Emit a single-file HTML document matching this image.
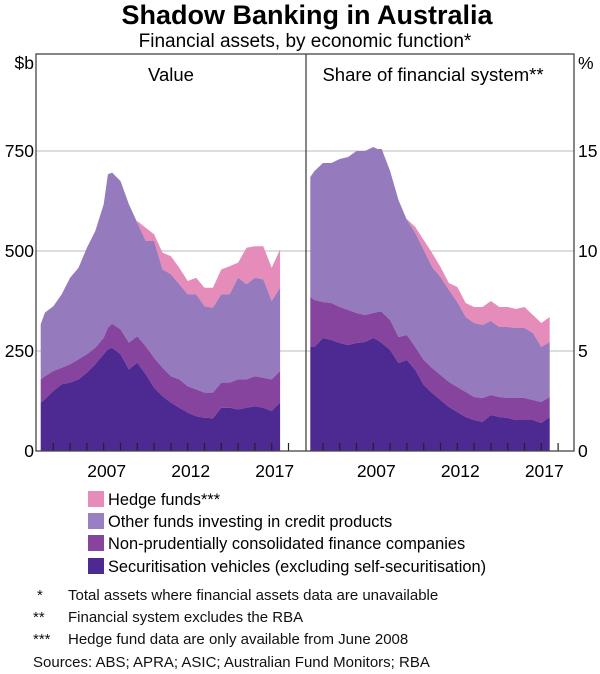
<!DOCTYPE html>
<html><head><meta charset="utf-8"><style>
body{margin:0;background:#fff;}
svg{display:block;font-family:"Liberation Sans",Arial,sans-serif;}
</style></head><body>
<svg id="chart" width="600" height="674" viewBox="0 0 600 674" xmlns="http://www.w3.org/2000/svg">
<text x="307" y="24" text-anchor="middle" font-size="27" font-weight="bold">Shadow Banking in Australia</text>
<text x="305" y="47" text-anchor="middle" font-size="19">Financial assets, by economic function*</text>
<text x="34" y="69" text-anchor="end" font-size="17.5">$b</text>
<text x="578" y="69" font-size="17.5">%</text>
<g id="plots"></g>
<rect x="36" y="54" width="538" height="397" fill="none" stroke="#444" stroke-width="1.3"/>
<line x1="306" y1="54" x2="306" y2="451" stroke="#444" stroke-width="1.3"/>
<text x="171" y="81" text-anchor="middle" font-size="18.5">Value</text>
<text x="433" y="81" text-anchor="middle" font-size="18.5">Share of financial system**</text>
<g font-size="16.4">
<rect x="88" y="491" width="16" height="16" fill="#e68cbb"/>
<text x="108" y="505">Hedge funds***</text>
<rect x="88" y="513" width="16" height="16" fill="#9a80c0"/>
<text x="108" y="527">Other funds investing in credit products</text>
<rect x="88" y="535" width="16" height="16" fill="#87449f"/>
<text x="108" y="549">Non-prudentially consolidated finance companies</text>
<rect x="88" y="558" width="16" height="16" fill="#4c2a92"/>
<text x="108" y="572">Securitisation vehicles (excluding self-securitisation)</text>
</g>
<g font-size="15" fill="#111">
<text x="37" y="600">*</text>
<text x="68" y="600">Total assets where financial assets data are unavailable</text>
<text x="33" y="622">**</text>
<text x="68" y="622">Financial system excludes the RBA</text>
<text x="33" y="644">***</text>
<text x="68" y="644">Hedge fund data are only available from June 2008</text>
<text x="33" y="667">Sources: ABS; APRA; ASIC; Australian Fund Monitors; RBA</text>
</g>
</svg>
<script>
const times = [2003.25,2003.5,2004,2004.5,2005,2005.5,2006,2006.5,2007,2007.25,2007.5,2008,2008.5,2009,2009.5,2010,2010.5,2011,2011.5,2012,2012.5,2013,2013.5,2014,2014.5,2015,2015.5,2016,2016.5,2017,2017.5];
// Value panel ($b) — cumulative stack tops
const valSec = [121,129,150,167,171,179,196,217,242,254,258,242,204,221,192,158,137,121,108,96,87,83,82,108,108,104,108,112,108,100,121];
const valNpfTop = [179,187,200,208,217,229,242,258,283,308,318,304,271,287,262,233,208,187,179,162,154,146,146,171,171,179,179,187,183,179,200];
const valOtherTop = [317,346,362,392,433,458,508,550,617,692,696,675,617,571,525,525,454,442,417,392,392,362,358,392,392,433,417,433,429,375,408];
const valTotal = [317,346,362,392,433,458,508,550,617,692,696,675,617,575,558,542,496,487,458,425,433,408,408,454,462,471,508,512,512,458,504];
// Share panel (%)
const shrSec = [5.2,5.2,5.65,5.55,5.4,5.3,5.4,5.45,5.65,5.55,5.4,5.05,4.4,4.55,4.05,3.3,2.9,2.55,2.2,1.95,1.7,1.55,1.45,1.8,1.7,1.65,1.55,1.55,1.55,1.4,1.7];
const shrNpfTop = [7.7,7.55,7.45,7.4,7.2,7.05,6.9,6.8,6.9,6.95,6.95,6.55,5.7,5.8,5.2,4.55,4.15,3.8,3.45,3.2,2.95,2.7,2.65,2.8,2.7,2.65,2.65,2.65,2.55,2.45,2.7];
const shrOtherTop = [13.7,14.0,14.4,14.4,14.6,14.7,15.0,15.0,15.2,15.1,15.1,14.0,12.55,11.55,10.9,10.05,9.2,8.7,8.05,7.45,6.7,6.4,6.3,6.5,6.2,6.2,6.15,6.15,5.9,5.2,5.45];
const shrTotal = [13.7,14.0,14.4,14.4,14.6,14.7,15.0,15.0,15.2,15.1,15.1,14.0,12.55,11.6,11.2,10.55,9.9,9.2,8.4,8.2,7.4,7.2,7.2,7.5,7.2,7.2,7.1,7.2,6.8,6.4,6.7];
const valTicks = [0,250,500,750];
const shrTicks = [0,5,10,15];
const yearLabels = [2007,2012,2017];

const NS='http://www.w3.org/2000/svg';
const g=document.getElementById('plots');
const Y0=451;
function mk(tag,attrs){const e=document.createElementNS(NS,tag);for(const k in attrs)e.setAttribute(k,attrs[k]);g.appendChild(e);return e;}

function panel(x2007,yScale,ticks,tickX,anchor,layers,name,xl,xr){
  const xs=t=>x2007+(t-2007)*16.8;
  ticks.forEach(v=>{
    if(v>0){const l=mk('line',{x1:xl,x2:xr,y1:yScale(v),y2:yScale(v),stroke:'#bbb','stroke-width':1});
      
      }
  });
  ticks.forEach(v=>{
    const t=mk('text',{x:tickX,y:yScale(v)+6,'text-anchor':anchor,'font-size':17.5});t.textContent=v;
    
    
  });
  layers.forEach(L=>{
    let d='';const pts=[];
    for(let i=0;i<times.length;i++){if(L.start!==undefined&&times[i]<L.start)continue;pts.push(i);}
    pts.forEach((i,k)=>{d+=(k?'L':'M')+xs(times[i]).toFixed(1)+','+yScale(L.top[i]).toFixed(1);});
    for(let k=pts.length-1;k>=0;k--){const i=pts[k];d+='L'+xs(times[i]).toFixed(1)+','+yScale(L.bot?L.bot[i]:0).toFixed(1);}
    const p=mk('path',{d:d+'Z',fill:L.color});
    
    
  });
  for(let yr=2004;yr<=2018;yr++){
    const x=xs(yr);
    const l=mk('line',{x1:x,x2:x,y1:Y0,y2:Y0-8,stroke:'#222','stroke-width':1.2});
    
    
  }
  yearLabels.forEach(yr=>{
    const t=mk('text',{x:xs(yr)+3,y:477,'text-anchor':'middle','font-size':17.5});t.textContent=yr;
    
    
  });
}
const yv=v=>Y0-v*0.4;
const ys=v=>Y0-v*20;
panel(103.7,yv,valTicks,34,'end',[
 {n:'hedge-area',top:valTotal,bot:valOtherTop,color:'#e68cbb',start:2009},
 {n:'other-funds-area',top:valOtherTop,bot:valNpfTop,color:'#957bbd'},
 {n:'finance-companies-area',top:valNpfTop,bot:valSec,color:'#87449f'},
 {n:'securitisation-area',top:valSec,color:'#4c2a92'}],'value',36,306);
panel(373.3,ys,shrTicks,578,'start',[
 {n:'hedge-area',top:shrTotal,bot:shrOtherTop,color:'#e68cbb',start:2009},
 {n:'other-funds-area',top:shrOtherTop,bot:shrNpfTop,color:'#957bbd'},
 {n:'finance-companies-area',top:shrNpfTop,bot:shrSec,color:'#87449f'},
 {n:'securitisation-area',top:shrSec,color:'#4c2a92'}],'share',306,574);
</script>
</body></html>
